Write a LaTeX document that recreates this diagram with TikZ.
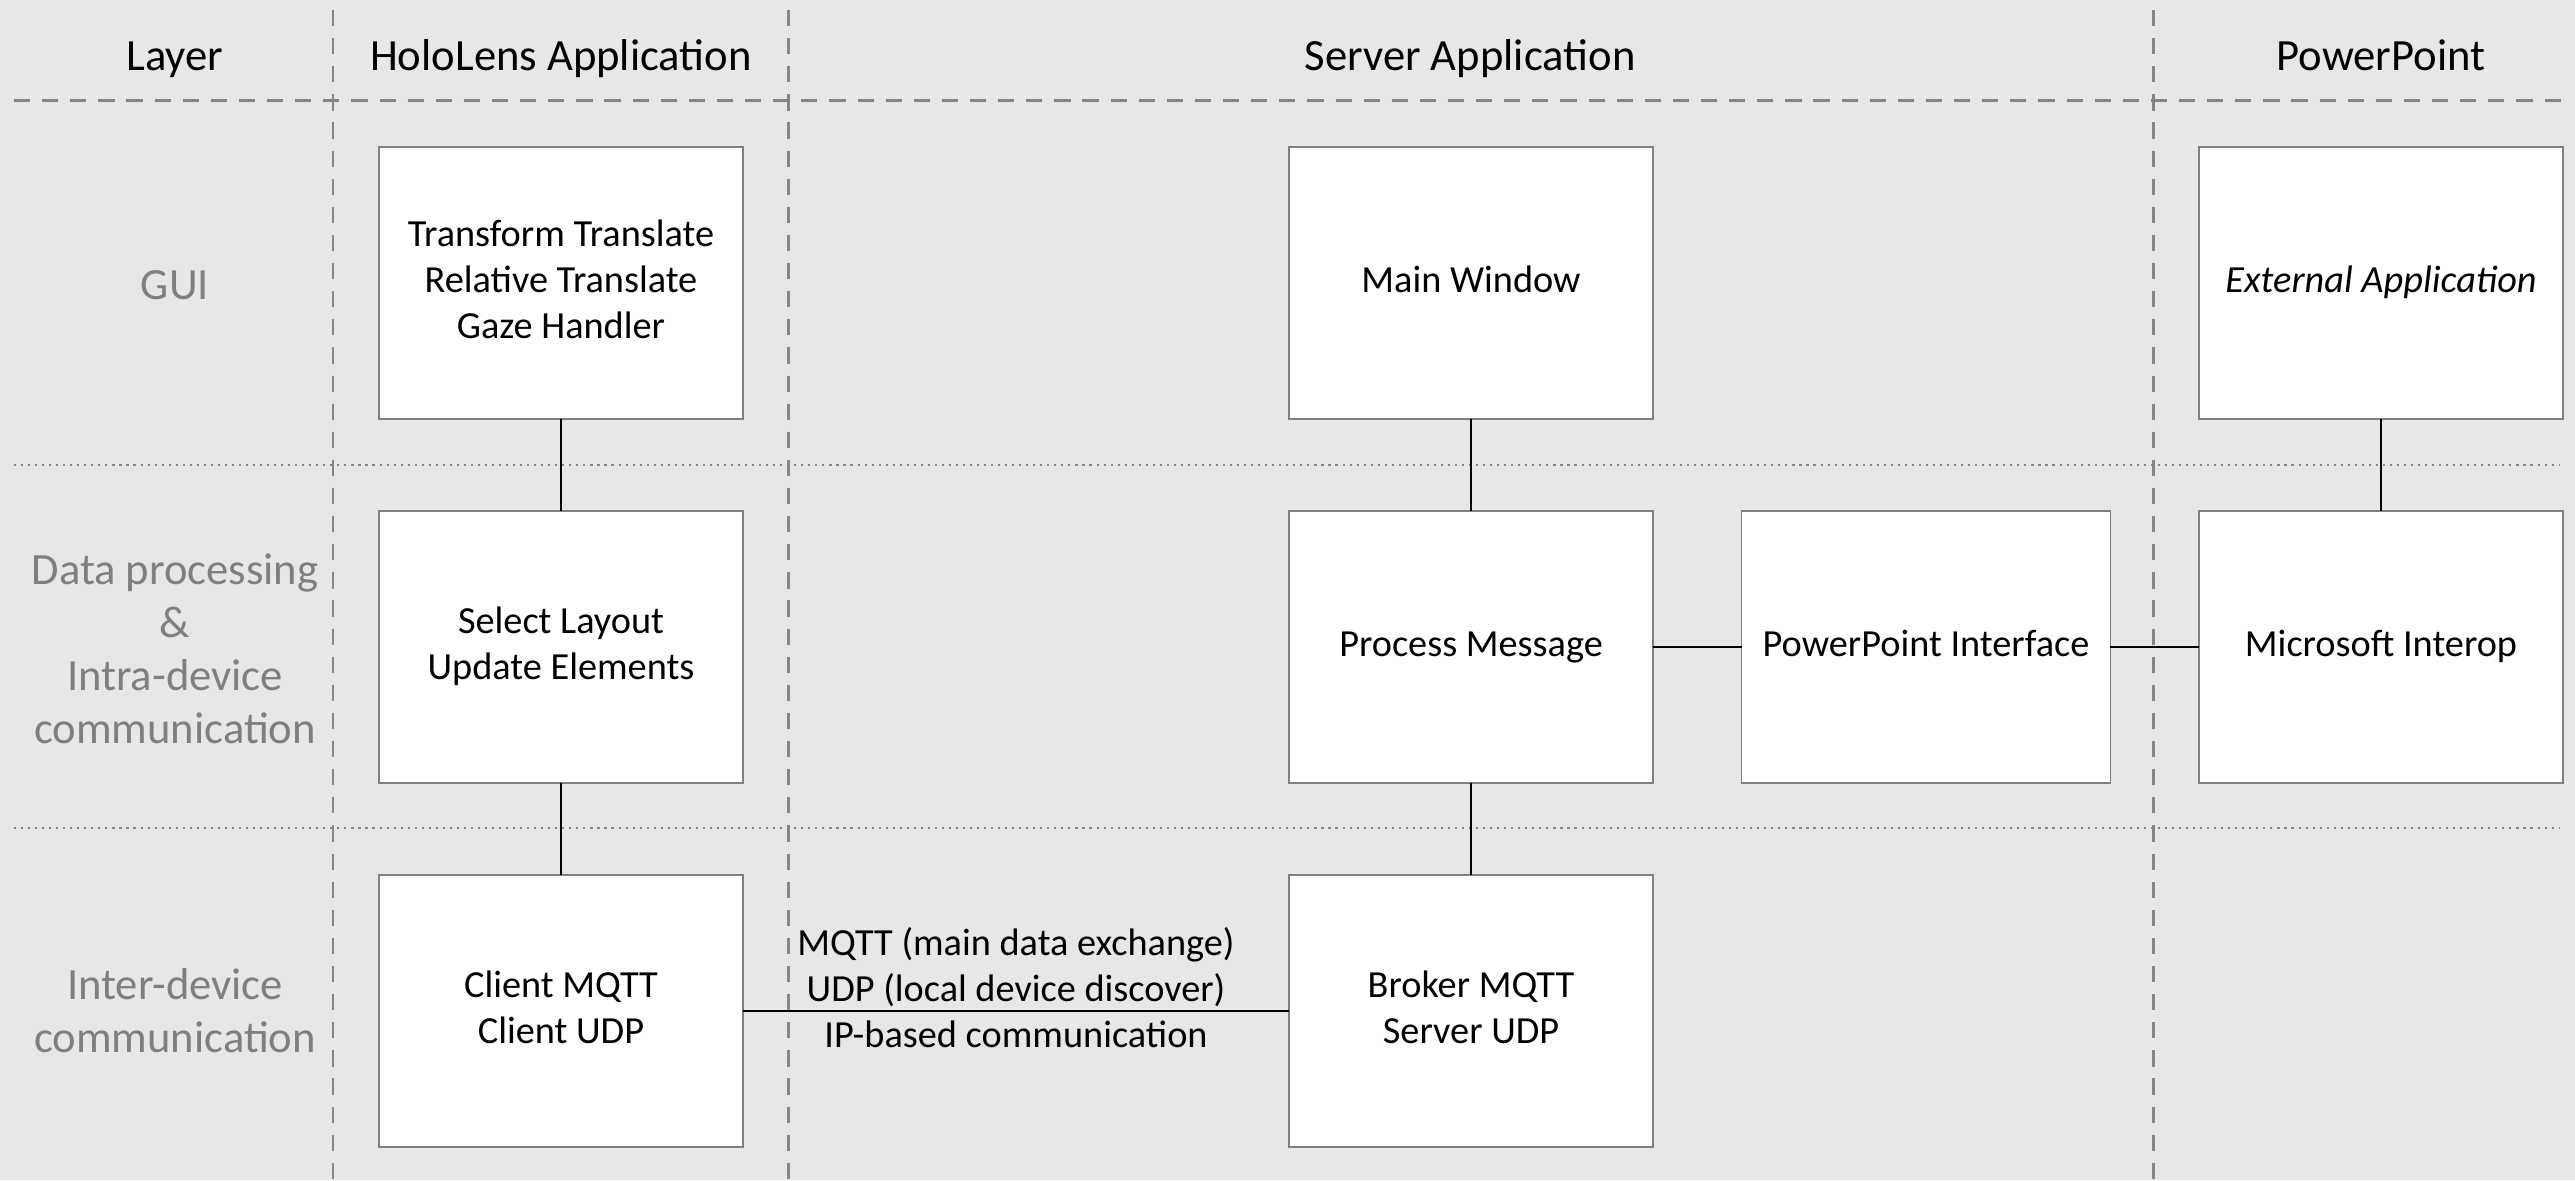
\documentclass[tikz,border=0pt]{standalone}
\usepackage{fontspec}
\setmainfont{Carlito}
\usetikzlibrary{positioning,calc}
\definecolor{bgColor}{HTML}{E7E7E7}
\definecolor{sepColor}{HTML}{858585}
\definecolor{layColor}{HTML}{7F7F7F}
\newcommand{\boxfont}{\fontsize{10.9}{13.1}\selectfont}
\newcommand{\headfont}{\fontsize{12.7}{15.1}\selectfont}

\begin{document}
\begin{tikzpicture}[semithick,
	box/.style={draw=layColor, line width=0.5pt, fill=white, minimum width=3.64cm, minimum height=2.72cm, inner sep=0, outer sep=0, font=\boxfont, align=center},
	head/.style={anchor=base, font=\headfont},
	lay/.style={text=layColor, font=\headfont, align=center},
	colsep/.style={sepColor, line width=0.85pt, dash pattern=on 4.6pt off 3.4pt},
	rowsep/.style={sepColor, line width=0.6pt, dash pattern=on 0.6pt off 1.4pt},
	link/.style={black, line width=0.6pt}]
	\fill[bgColor] (0,0) rectangle (25.75,-11.80);
	\useasboundingbox (0,0) rectangle (25.75,-11.80);
	
	% separators
	\draw[colsep] (0.14,-1.00) -- (25.63,-1.00);
	\foreach \x in {3.33, 7.88, 21.53}
		\draw[colsep] (\x,-0.10) -- (\x,-11.80);
	\foreach \y in {-4.65, -8.28}
		\draw[rowsep] (0.14,\y) -- (25.60,\y);
	
	% headers
	\node[head] (hLayer) at (1.75, -0.70) {Layer};
	\node[head] (hHolo) at (5.61, -0.70) {HoloLens Application};
	\node[head] (hServer) at (14.70, -0.70) {Server Application};
	\node[head] (hPpt) at (23.81, -0.70) {PowerPoint};
	
	% layers
	\node[lay] (lGui) at (1.75, -2.85) {GUI};
	\node[lay] (lData) at (1.75, -6.49) {Data processing\\\&\\Intra-device\\communication};
	\node[lay] (lInter) at (1.75, -10.11) {Inter-device\\communication};
	
	% HoloLens
	\node[box] (tt) at (5.61, -2.83) {\begin{tabular}{c} Transform Translate\\ Relative Translate\\ Gaze Handler \end{tabular}};
	\node[box] (sl) at (5.61, -6.47) {\begin{tabular}{c} Select Layout\\ Update Elements \end{tabular}};
	\node[box] (cm) at (5.61, -10.11) {\begin{tabular}{c} Client MQTT\\ Client UDP \end{tabular}};
	
	% server
	\node[box] (mw) at (14.71, -2.83) {\begin{tabular}{c} Main Window \end{tabular}};
	\node[box] (pm) at (14.71, -6.47) {\begin{tabular}{c} Process Message \end{tabular}};
	\node[box] (bm) at (14.71, -10.11) {\begin{tabular}{c} Broker MQTT\\ Server UDP \end{tabular}};
	\node[box] (pi) at (19.26, -6.47) {\begin{tabular}{c} PowerPoint Interface \end{tabular}};
	
	% powerpoint
	\node[box] (ea) at (23.81, -2.83) {\begin{tabular}{c} \textit{External Application} \end{tabular}};
	\node[box] (mi) at (23.81, -6.47) {\begin{tabular}{c} Microsoft Interop \end{tabular}};
	
	\path[link] (tt.south) edge (sl.north);
	\path[link] (sl.south) edge (cm.north);
	\path[link] (mw.south) edge (pm.north);
	\path[link] (pm.south) edge (bm.north);
	\path[link] (pm.east) edge (pi.west);
	\path[link] (pi.east) edge (mi.west);
	\path[link] (ea.south) edge (mi.north);
	\path[link] (cm.east) edge (bm.west);
	\node[font=\boxfont, align=center] (ip) at (10.16, -9.88) {MQTT (main data exchange)\\UDP (local device discover)\\IP-based communication};
\end{tikzpicture}
\end{document}
